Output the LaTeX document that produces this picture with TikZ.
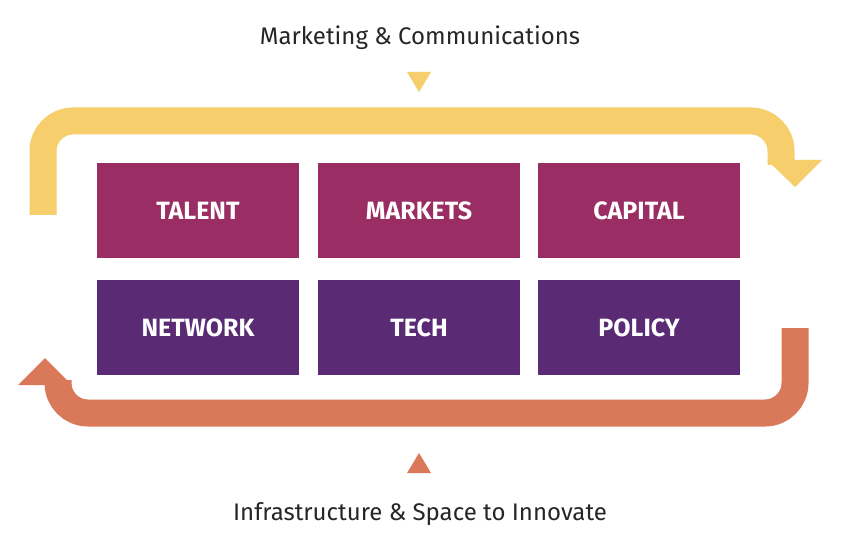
\documentclass[tikz,border=0pt]{standalone}
\usepackage{fontspec}
\setmainfont{Fira Sans}
\definecolor{ylw}{HTML}{F6CF6C}
\definecolor{org}{HTML}{D9795A}
\definecolor{mag}{HTML}{9A2D63}
\definecolor{pur}{HTML}{5A2B74}
\begin{document}
\begin{tikzpicture}[x=1pt,y=-1pt,
  box/.style={minimum width=202pt,minimum height=95pt,inner sep=0pt,text=white,font=\fontsize{25}{28}\selectfont\bfseries},
  lbl/.style={font=\fontsize{24}{28}\selectfont,text=black!85}]
\useasboundingbox (0,0) rectangle (846,556);
\fill[white] (0,0) rectangle (846,556);
% yellow loop
\draw[ylw,line width=27pt,rounded corners=30pt] (43,215) -- (43,121) -- (781,121) -- (781,165);
\fill[ylw] (767,160) -- (822,160) -- (795,187) -- cycle;
\coordinate (ytip) at (795,187);
% orange loop
\draw[org,line width=27pt,rounded corners=30pt] (795,328) -- (795,413) -- (58,413) -- (58,380);
\fill[org] (18,385) -- (72,385) -- (45,358) -- cycle;
% boxes
\node[box,fill=mag] (talent) at (198,210.5) {TALENT};
\node[box,fill=mag] (markets) at (419,210.5) {MARKETS};
\node[box,fill=mag] (capital) at (639,210.5) {CAPITAL};
\node[box,fill=pur] (network) at (198,327.5) {NETWORK};
\node[box,fill=pur] (tech) at (419,327.5) {TECH};
\node[box,fill=pur] (policy) at (639,327.5) {POLICY};
% small triangles
\fill[ylw] (407,72) -- (431,72) -- (419,92) -- cycle;
\fill[org] (407,473) -- (431,473) -- (419,453) -- cycle;
\node[lbl] (top) at (420,38) {Marketing \& Communications};
\node[lbl] (bot) at (420,514) {Infrastructure \& Space to Innovate};
\end{tikzpicture}
\end{document}
